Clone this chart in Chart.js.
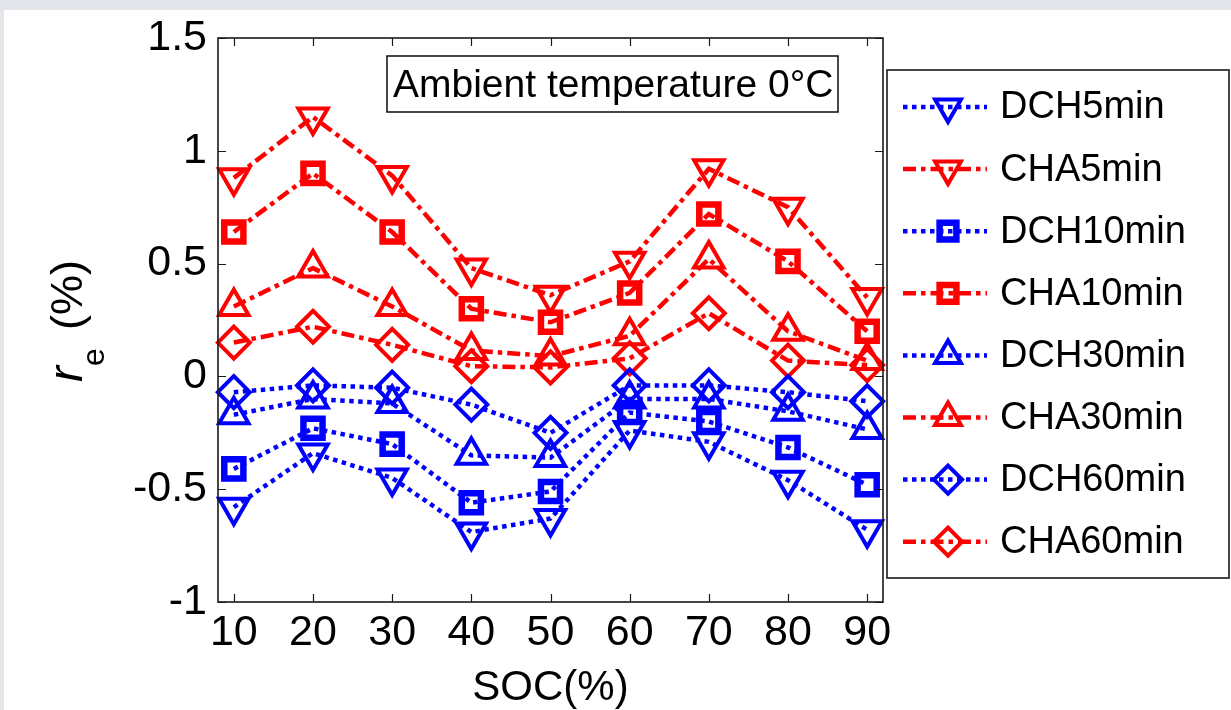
<!DOCTYPE html>
<html>
<head>
<meta charset="utf-8">
<script src="https://cdn.jsdelivr.net/npm/chart.js@4.4.0/dist/chart.umd.min.js"></script>
<style>
  html, body { margin: 0; padding: 0; background: #e3e6ea; }
  #wrap { position: absolute; left: 0; top: 0; width: 1231px; height: 710px; }
  canvas { display: block; }
</style>
</head>
<body>
<div id="wrap"><canvas id="c" width="1231" height="710"></canvas></div>
<script>
// ---- data ----
const socValues = [10, 20, 30, 40, 50, 60, 70, 80, 90];
const yTickValues = [-1, -0.5, 0, 0.5, 1, 1.5];
const seriesNames = ['DCH5min', 'CHA5min', 'DCH10min', 'CHA10min', 'DCH30min', 'CHA30min', 'DCH60min', 'CHA60min'];
const dch5  = [-0.58, -0.34, -0.45, -0.69, -0.63, -0.24, -0.29, -0.46, -0.68];
const cha5  = [0.88, 1.15, 0.89, 0.48, 0.36, 0.51, 0.92, 0.75, 0.35];
const dch10 = [-0.41, -0.23, -0.30, -0.56, -0.51, -0.16, -0.20, -0.315, -0.48];
const cha10 = [0.64, 0.90, 0.64, 0.30, 0.24, 0.37, 0.72, 0.51, 0.20];
const dch30 = [-0.17, -0.10, -0.12, -0.35, -0.36, -0.10, -0.10, -0.155, -0.235];
const cha30 = [0.31, 0.48, 0.31, 0.115, 0.09, 0.18, 0.52, 0.20, 0.07];
const dch60 = [-0.07, -0.04, -0.05, -0.125, -0.25, -0.04, -0.04, -0.07, -0.11];
const cha60 = [0.15, 0.22, 0.14, 0.045, 0.04, 0.08, 0.28, 0.07, 0.05];
const annotationText = 'Ambient temperature 0°C';
const xTitle = 'SOC(%)';

// ---- styles ----
const FONT = '"Liberation Sans", Arial, Helvetica, sans-serif';
const BLUE = '#0000ff', RED = '#ff0000';
const DOT = [4.5, 4.5];
const DASHDOT = [13, 5, 4.5, 5];
const seriesValues = [dch5, cha5, dch10, cha10, dch30, cha30, dch60, cha60];
const markerStyle = [
  {ps: 'triangle', rot: 180, r: 17, bw: 4},
  {ps: 'triangle', rot: 180, r: 17, bw: 4},
  {ps: 'rect', rot: 0, r: 13.5, bw: 6.5},
  {ps: 'rect', rot: 0, r: 13.5, bw: 6.5},
  {ps: 'triangle', rot: 0, r: 17, bw: 4},
  {ps: 'triangle', rot: 0, r: 17, bw: 4},
  {ps: 'rectRot', rot: 0, r: 16, bw: 4},
  {ps: 'rectRot', rot: 0, r: 16, bw: 4}
];
const legendMarkerScale = 0.88;

const datasets = seriesNames.map((name, i) => {
  const isDch = i % 2 === 0;
  const m = markerStyle[i];
  return {
    label: name,
    data: socValues.map((x, k) => ({x: x, y: seriesValues[i][k]})),
    borderColor: isDch ? BLUE : RED,
    borderWidth: 4.5,
    borderDash: isDch ? DOT : DASHDOT,
    borderCapStyle: 'butt',
    fill: false,
    tension: 0,
    pointStyle: m.ps,
    pointRotation: m.rot,
    pointRadius: m.r,
    pointBorderWidth: m.bw,
    pointBorderColor: isDch ? BLUE : RED,
    pointBackgroundColor: 'rgba(0,0,0,0)',
    clip: false
  };
});

function drawMarker(ctx, m, x, y, color) {
  ctx.save();
  ctx.setLineDash([]);
  ctx.strokeStyle = color;
  ctx.fillStyle = 'rgba(0,0,0,0)';
  ctx.lineWidth = m.bw;
  if (Chart.helpers && Chart.helpers.drawPoint) {
    Chart.helpers.drawPoint(ctx, {pointStyle: m.ps, rotation: m.rot, radius: m.r * legendMarkerScale, borderWidth: m.bw}, x, y);
  }
  ctx.restore();
}

const decorPlugin = {
  id: 'decor',
  beforeDraw(chart) {
    const ctx = chart.ctx;
    ctx.save();
    ctx.fillStyle = '#e3e6ea';
    ctx.fillRect(0, 0, chart.width, chart.height);
    ctx.fillStyle = '#ffffff';
    ctx.fillRect(4, 10, chart.width - 4, chart.height - 10);
    ctx.restore();
  },
  afterDraw(chart) {
    const ctx = chart.ctx;
    const a = chart.chartArea;
    const xs = chart.scales.x, ys = chart.scales.y;
    ctx.save();
    ctx.setLineDash([]);
    ctx.strokeStyle = '#1a1a1a';
    ctx.lineWidth = 1.6;
    // frame
    ctx.strokeRect(a.left, a.top, a.right - a.left, a.bottom - a.top);
    // inward ticks
    ctx.lineWidth = 1.2;
    ctx.beginPath();
    socValues.forEach(v => {
      const px = Math.round(xs.getPixelForValue(v)) + 0.5;
      ctx.moveTo(px, a.bottom); ctx.lineTo(px, a.bottom - 8);
      ctx.moveTo(px, a.top); ctx.lineTo(px, a.top + 8);
    });
    yTickValues.forEach(v => {
      const py = Math.round(ys.getPixelForValue(v)) + 0.5;
      ctx.moveTo(a.left, py); ctx.lineTo(a.left + 8, py);
      ctx.moveTo(a.right, py); ctx.lineTo(a.right - 8, py);
    });
    ctx.stroke();

    // annotation box
    ctx.lineWidth = 1.6;
    ctx.fillStyle = '#ffffff';
    ctx.fillRect(387, 56, 451, 56);
    ctx.strokeRect(387, 56, 451, 56);
    ctx.fillStyle = '#000000';
    ctx.font = '39px ' + FONT;
    ctx.textAlign = 'left';
    ctx.textBaseline = 'middle';
    ctx.fillText(annotationText, 393, 86);

    // y axis label: r_e (%)
    ctx.save();
    ctx.translate(82, 382);
    ctx.rotate(-Math.PI / 2);
    ctx.textBaseline = 'alphabetic';
    ctx.textAlign = 'left';
    ctx.font = 'italic 48px ' + FONT;
    ctx.fillText('r', 0, 0);
    ctx.font = '32px ' + FONT;
    ctx.fillText('e', 16, 22);
    ctx.font = '45px ' + FONT;
    ctx.fillText('(%)', 52, 0);
    ctx.restore();

    // legend
    const lx = 887, ly = 70, lw = 342, lh = 508;
    ctx.lineWidth = 1.6;
    ctx.strokeStyle = '#1a1a1a';
    ctx.fillStyle = '#ffffff';
    ctx.fillRect(lx, ly, lw, lh);
    ctx.strokeRect(lx, ly, lw, lh);
    chart.data.datasets.forEach((ds, i) => {
      const yy = 107 + i * 62.1;
      ctx.save();
      ctx.strokeStyle = ds.borderColor;
      ctx.lineWidth = ds.borderWidth;
      ctx.setLineDash(ds.borderDash);
      ctx.lineCap = 'butt';
      ctx.beginPath();
      ctx.moveTo(903, yy); ctx.lineTo(987, yy);
      ctx.stroke();
      ctx.restore();
      drawMarker(ctx, markerStyle[i], 948, yy, ds.borderColor);
      ctx.fillStyle = '#000000';
      ctx.font = '38px ' + FONT;
      ctx.textAlign = 'left';
      ctx.textBaseline = 'middle';
      ctx.fillText(ds.label, 1000, yy + 1);
    });
    ctx.restore();
  }
};

new Chart(document.getElementById('c'), {
  type: 'line',
  data: { datasets: datasets },
  options: {
    responsive: false,
    animation: false,
    devicePixelRatio: 1,
    layout: { padding: { left: 0, top: 38, right: 348, bottom: 0 } },
    plugins: { legend: { display: false }, tooltip: { enabled: false } },
    scales: {
      x: {
        type: 'linear',
        min: 8, max: 92,
        afterBuildTicks(scale) { scale.ticks = socValues.map(v => ({value: v})); },
        afterFit(scale) { scale.height = 108; },
        grid: { display: false, drawTicks: false },
        border: { display: false },
        ticks: {
          padding: 5,
          color: '#000',
          font: { family: FONT, size: 43 },
          maxRotation: 0,
          autoSkip: false,
          callback: v => String(v)
        },
        title: {
          display: true,
          text: xTitle,
          color: '#000',
          font: { family: FONT, size: 42, lineHeight: 1 },
          padding: { top: 0, bottom: 1 }
        }
      },
      y: {
        type: 'linear',
        min: -1, max: 1.5,
        afterBuildTicks(scale) { scale.ticks = yTickValues.map(v => ({value: v})); },
        afterFit(scale) { scale.width = 218; },
        grid: { display: false, drawTicks: false },
        border: { display: false },
        ticks: {
          padding: 11,
          color: '#000',
          font: { family: FONT, size: 43 },
          autoSkip: false,
          callback: v => String(v)
        }
      }
    }
  },
  plugins: [decorPlugin]
});
</script>
</body>
</html>
